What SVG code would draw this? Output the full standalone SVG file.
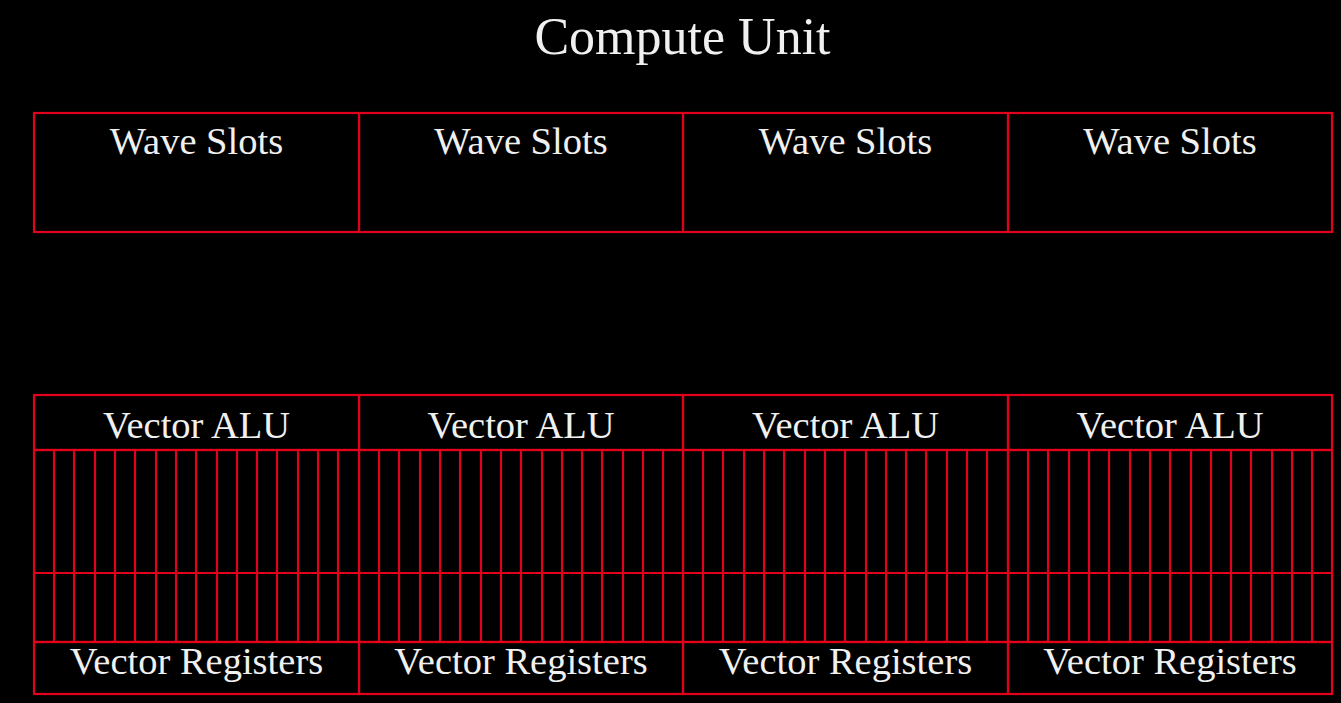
<svg xmlns="http://www.w3.org/2000/svg" width="1341" height="703" viewBox="0 0 1341 703">
<style>
.box{fill:none;stroke:#e2001c;stroke-width:2.2}
.lane{fill:none;stroke:#e2001c;stroke-width:2.2}
text{font-family:"Liberation Serif","Times New Roman",serif;fill:#f0f0f0;text-anchor:middle}
.lbl{font-size:38.5px}
.title{font-size:52px}
</style>
<defs>
<path id="lanes" class="lane" d="M54 450V642M74 450V642M95 450V642M115 450V642M135 450V642M156 450V642M176 450V642M196 450V642M217 450V642M237 450V642M257 450V642M277 450V642M298 450V642M318 450V642M338 450V642"/>
</defs>
<rect x="0" y="0" width="1341" height="703" fill="#000"/>
<text class="title" x="682.5" y="54">Compute Unit</text>

<g id="wave-slots-1"><rect class="box" x="34" y="113" width="325" height="119"/><text class="lbl" x="196.5" y="154">Wave Slots</text></g>
<g id="wave-slots-2"><rect class="box" x="359" y="113" width="324" height="119"/><text class="lbl" x="521" y="154">Wave Slots</text></g>
<g id="wave-slots-3"><rect class="box" x="683" y="113" width="325" height="119"/><text class="lbl" x="845.5" y="154">Wave Slots</text></g>
<g id="wave-slots-4"><rect class="box" x="1008" y="113" width="324" height="119"/><text class="lbl" x="1170" y="154">Wave Slots</text></g>

<g id="vector-alu-1"><rect class="box" x="34" y="395" width="325" height="55"/><text class="lbl" x="196.5" y="438">Vector ALU</text></g>
<g id="vector-alu-2"><rect class="box" x="359" y="395" width="324" height="55"/><text class="lbl" x="521" y="438">Vector ALU</text></g>
<g id="vector-alu-3"><rect class="box" x="683" y="395" width="325" height="55"/><text class="lbl" x="845.5" y="438">Vector ALU</text></g>
<g id="vector-alu-4"><rect class="box" x="1008" y="395" width="324" height="55"/><text class="lbl" x="1170" y="438">Vector ALU</text></g>

<g id="lanes-1"><rect class="box" x="34" y="450" width="325" height="192"/><line class="lane" x1="34" y1="573" x2="359" y2="573"/><use href="#lanes"/></g>
<g id="lanes-2"><rect class="box" x="359" y="450" width="324" height="192"/><line class="lane" x1="359" y1="573" x2="683" y2="573"/><use href="#lanes" transform="translate(325 0)"/></g>
<g id="lanes-3"><rect class="box" x="683" y="450" width="325" height="192"/><line class="lane" x1="683" y1="573" x2="1008" y2="573"/><use href="#lanes" transform="translate(649 0)"/></g>
<g id="lanes-4"><rect class="box" x="1008" y="450" width="324" height="192"/><line class="lane" x1="1008" y1="573" x2="1332" y2="573"/><use href="#lanes" transform="translate(974 0)"/></g>

<g id="vector-registers-1"><rect class="box" x="34" y="642" width="325" height="52"/><text class="lbl" x="196.5" y="674">Vector Registers</text></g>
<g id="vector-registers-2"><rect class="box" x="359" y="642" width="324" height="52"/><text class="lbl" x="521" y="674">Vector Registers</text></g>
<g id="vector-registers-3"><rect class="box" x="683" y="642" width="325" height="52"/><text class="lbl" x="845.5" y="674">Vector Registers</text></g>
<g id="vector-registers-4"><rect class="box" x="1008" y="642" width="324" height="52"/><text class="lbl" x="1170" y="674">Vector Registers</text></g>

<g id="connectors"/>
</svg>
